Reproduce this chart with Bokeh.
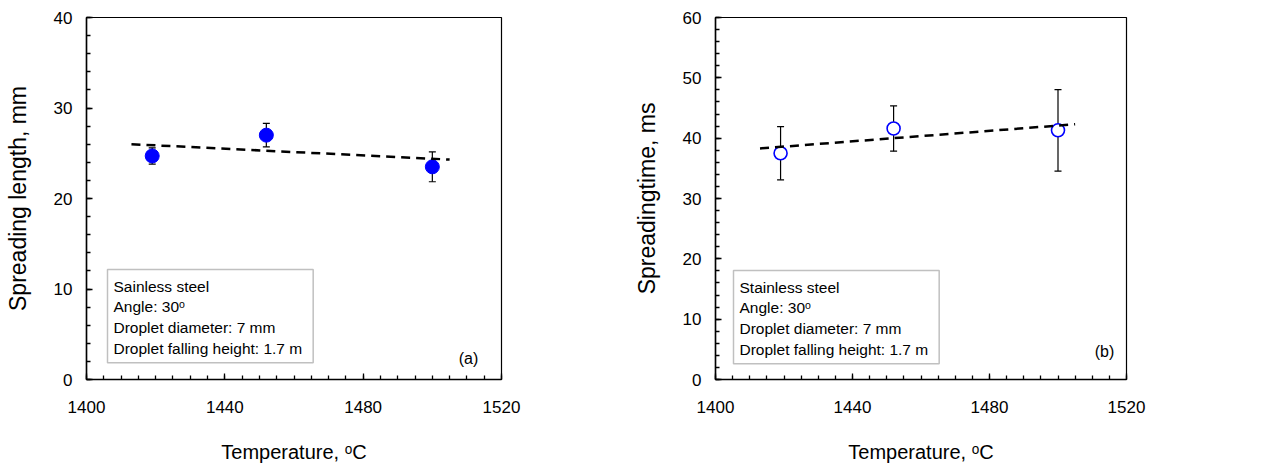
from bokeh.plotting import figure
from bokeh.layouts import row
from bokeh.models import ColumnDataSource, Whisker, Label, SingleIntervalTicker, Range1d, TeeHead
from bokeh.embed import file_html
from bokeh.resources import INLINE

# ---- data ----
temperature = [1419, 1452, 1500]
length_mm = [24.7, 27.0, 23.5]
length_err = [0.9, 1.3, 1.65]
time_ms = [37.5, 41.6, 41.3]
time_err = [4.4, 3.75, 6.75]
trend_x = [1413, 1505]
length_trend = [26.0, 24.3]
time_trend = [38.3, 42.3]

x_ticks_interval = 40
y_ticks_interval = 10

FONT = "Liberation Sans"


def make_panel(width, mb_left, mb_right, mb_bottom, ymax, yvals, yerr, trend_y,
               ylabel, filled, box_text, box_xy, tag, tag_xy):
    p = figure(width=width, height=467, output_backend="svg", toolbar_location=None,
               x_range=Range1d(1400, 1520), y_range=Range1d(0, ymax),
               min_border_left=mb_left, min_border_right=mb_right,
               min_border_top=17, min_border_bottom=mb_bottom)
    p.xgrid.visible = False
    p.ygrid.visible = False
    p.outline_line_color = "black"
    p.outline_line_width = 1.2
    p.background_fill_color = "white"
    p.border_fill_color = "white"

    p.xaxis.ticker = SingleIntervalTicker(interval=x_ticks_interval, num_minor_ticks=8)
    p.yaxis.ticker = SingleIntervalTicker(interval=y_ticks_interval, num_minor_ticks=5)
    for ax in (p.xaxis[0], p.yaxis[0]):
        ax.axis_line_color = "black"
        ax.axis_line_width = 1.5
        ax.major_tick_in = 6
        ax.major_tick_out = 0
        ax.minor_tick_in = 4
        ax.minor_tick_out = 0
        ax.major_tick_line_color = "black"
        ax.minor_tick_line_color = "black"
        ax.major_tick_line_width = 1.3
        ax.minor_tick_line_width = 1.3
        ax.major_label_text_font = FONT
        ax.major_label_text_font_size = "17px"
        ax.major_label_text_color = "black"
        ax.axis_label_text_font = FONT
        ax.axis_label_text_font_style = "normal"
        ax.axis_label_text_color = "black"
    p.xaxis.major_label_standoff = 21
    p.yaxis.major_label_standoff = 14
    p.xaxis.axis_label = "Temperature, ᵒC"
    p.xaxis.axis_label_text_font_size = "20px"
    p.xaxis.axis_label_standoff = 25
    p.yaxis.axis_label = ylabel
    p.yaxis.axis_label_text_font_size = "23px"
    p.yaxis.axis_label_standoff = 20

    src = ColumnDataSource(dict(
        x=temperature, y=yvals,
        upper=[v + e for v, e in zip(yvals, yerr)],
        lower=[v - e for v, e in zip(yvals, yerr)]))
    wh = Whisker(base="x", upper="upper", lower="lower", source=src,
                 line_color="black", line_width=1.2,
                 upper_head=TeeHead(size=7, line_color="black", line_width=1.2),
                 lower_head=TeeHead(size=7, line_color="black", line_width=1.2))
    p.add_layout(wh)

    if filled:
        p.scatter("x", "y", source=src, size=14, fill_color="#0000ff", line_color="#0000ff")
    else:
        p.scatter("x", "y", source=src, size=13, fill_color="white", line_color="#0000ff",
                  line_width=1.6)

    p.line(trend_x, trend_y, line_color="black", line_width=2.5, line_dash="9 6")

    lbl = Label(x=box_xy[0], y=box_xy[1], x_units="screen", y_units="screen",
                text=box_text, text_font=FONT, text_font_size="15.5px", text_color="black",
                text_align="left", text_baseline="top", text_line_height=1.22,
                border_line_color="#c0c0c0", border_line_width=1.5,
                background_fill_color="white", padding=(6, 11, 8, 6))
    p.add_layout(lbl)
    tg = Label(x=tag_xy[0], y=tag_xy[1], x_units="screen", y_units="screen",
               text=tag, text_font=FONT, text_font_size="16px", text_color="black",
               text_align="center", text_baseline="middle")
    p.add_layout(tg)
    return p


p1 = make_panel(630, 86, 129, 85, 40, length_mm, length_err, length_trend,
                "Spreading length, mm", True,
                "Sainless steel\nAngle: 30ᵒ\nDroplet diameter: 7 mm\nDroplet falling height: 1.7 m",
                (21, 110), "(a)", (382, 21))
p2 = make_panel(632, 84, 136, 88, 60, time_ms, time_err, time_trend,
                "Spreadingtime, ms", False,
                "Stainless steel\nAngle: 30ᵒ\nDroplet diameter: 7 mm\nDroplet falling height: 1.7 m",
                (18, 109), "(b)", (389, 28))

layout = row(p1, p2)
open("out.html", "w").write(file_html(layout, INLINE))
